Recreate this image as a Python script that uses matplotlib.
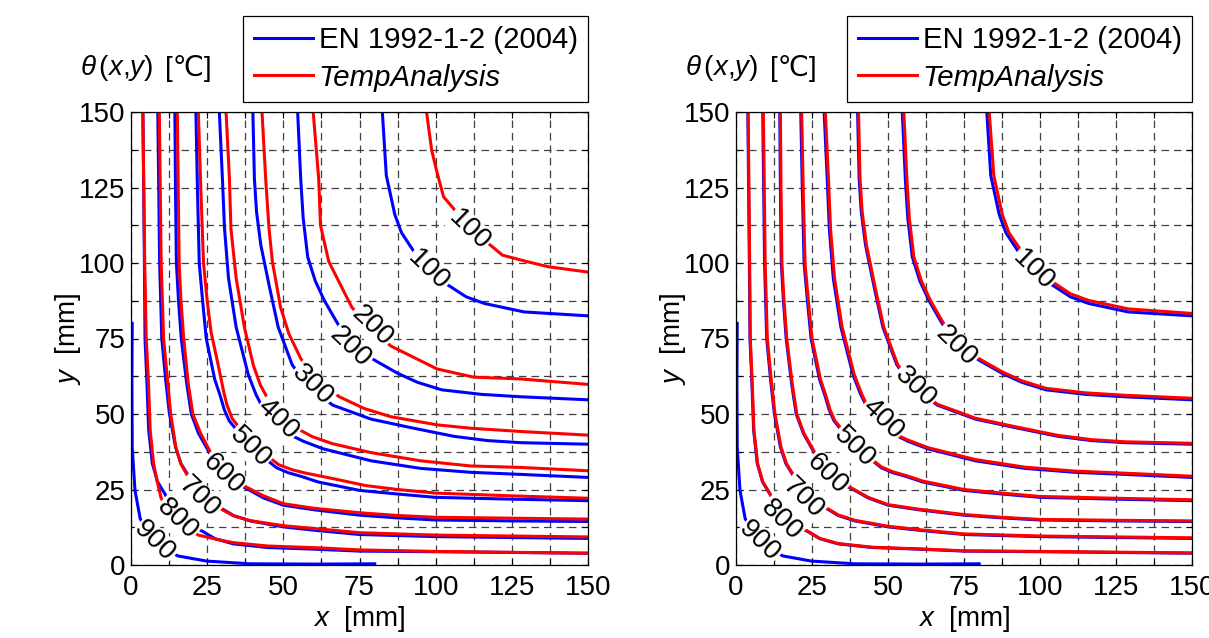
import numpy as np
import matplotlib
matplotlib.use('Agg')
import matplotlib.pyplot as plt

plt.rcParams['font.family'] = ['Liberation Sans', 'DejaVu Sans']
plt.rcParams['mathtext.fontset'] = 'custom'
plt.rcParams['mathtext.rm'] = 'Liberation Sans'
plt.rcParams['mathtext.it'] = 'Liberation Sans:italic'

# Isotherms of a square section corner are symmetric about x = y, so each
# entry holds only the upper branch (x list, y list) in mm, running from the
# top edge down to the diagonal; the lower branch is its mirror image.
EN_HALF = {
    100: ([82.5, 83.8, 86.6, 88.8, 92.6, 97.5], [150, 129, 116, 110, 104.2, 97.5]),
    200: ([54.7, 55.7, 56.5, 58.0, 60.5, 63.5, 67.5, 72.5], [150, 128, 115, 102, 94, 87.5, 80.5, 72.5]),
    300: ([40.0, 40.5, 41.2, 42.6, 45.5, 48.3, 52.9, 58.5], [150, 128, 117, 106, 91.8, 78.8, 66.3, 58.5]),
    400: ([29.0, 30.0, 30.7, 32.0, 34.5, 38.5, 41.0, 42.5, 47.5], [150, 128, 111.4, 95, 78.8, 63, 56.5, 53.5, 47.5]),
    500: ([21.3, 21.8, 22.4, 23.5, 24.7, 27.5, 29.3, 30.6, 32.2, 34.2, 38.8], [150, 125, 100, 87.5, 75, 61.4, 56, 51.5, 47.8, 45.3, 38.8]),
    600: ([14.4, 14.6, 14.9, 15.6, 16.5, 18.3, 19.8, 22.2, 25.3, 29.5], [150, 125, 100, 87.5, 75, 60, 50, 43.5, 38, 29.5]),
    700: ([8.8, 9.4, 10.1, 11.4, 12.6, 14.6, 16.4, 18.4, 22.6], [150, 100, 75, 61.2, 50.2, 39.1, 33.6, 30.3, 22.6]),
    800: ([3.9, 4.4, 4.6, 5.2, 5.8, 7.0, 8.7, 11.2, 15.3], [150, 100, 75, 61.2, 44.7, 33.6, 27.6, 23.4, 15.3]),
    900: ([0.4, 0.3, 0.4, 1.3, 3.0, 7.5], [80, 61, 39, 24.8, 15.4, 7.5]),
}

TA_LEFT_HALF = {
    100: ([97.0, 98.7, 100.4, 102.6, 105.9, 111.0], [150, 137.3, 130.2, 121.9, 118.0, 111.0]),
    200: ([59.8, 61.6, 62.2, 64.9, 68.7, 72.5, 78.5], [150, 128, 112.5, 100.5, 92.9, 85.3, 78.5]),
    300: ([43.0, 44.2, 45.3, 46.4, 49.1, 51.8, 55.7, 61.0], [150, 128, 111.4, 100.5, 85.3, 76.6, 68.4, 61.0]),
    400: ([31.2, 32.3, 32.8, 34.5, 37.2, 40.2, 42.5, 44.4, 49.5], [150, 128, 111.4, 95.1, 78.8, 66, 59.5, 56.0, 49.5]),
    500: ([22.1, 22.9, 23.8, 25.0, 26.3, 28.5, 30.5, 31.5, 33.2, 35.3, 40.2], [150, 125, 100, 87.5, 77, 66.8, 57, 53, 48.5, 45.8, 40.2]),
    600: ([15.2, 15.5, 15.8, 16.4, 17.3, 18.8, 20.3, 22.9, 26.0, 30.5], [150, 125, 100, 87.5, 75, 60, 50, 43.5, 37.5, 30.5]),
    700: ([9.3, 9.9, 10.7, 12.0, 13.0, 14.7, 16.3, 18.4, 23.0], [150, 100, 75, 61.2, 50.2, 39.1, 33.6, 29.8, 23.0]),
    800: ([3.9, 4.5, 5.0, 5.7, 6.3, 7.4, 8.5, 9.9, 14.8], [150, 100, 75, 61.2, 44.7, 33.6, 28.1, 22.1, 14.8]),
}

TA_RIGHT_HALF = {
    100: ([83.3, 84.8, 87.6, 89.8, 93.3, 98.2], [150, 129, 116, 110, 104.8, 98.2]),
    200: ([55.2, 56.2, 57.0, 58.5, 61.0, 64.0, 68.0, 73.0], [150, 128, 115, 102, 94, 87.5, 80.5, 73.0]),
    300: ([40.3, 40.8, 41.5, 42.9, 45.8, 48.6, 53.2, 58.8], [150, 128, 117, 106, 91.8, 78.8, 66.3, 58.8]),
    400: ([29.4, 30.4, 31.1, 32.4, 34.9, 38.9, 41.4, 42.8, 47.8], [150, 128, 111.4, 95, 78.8, 63, 56.5, 53.5, 47.8]),
    500: ([21.6, 22.1, 22.7, 23.8, 25.0, 27.8, 29.6, 30.9, 32.5, 34.5, 39.0], [150, 125, 100, 87.5, 75, 61.4, 56, 51.5, 47.8, 45.3, 39.0]),
    600: ([14.6, 14.8, 15.1, 15.8, 16.7, 18.5, 20.0, 22.4, 25.5, 29.7], [150, 125, 100, 87.5, 75, 60, 50, 43.5, 38, 29.7]),
    700: ([9.0, 9.6, 10.3, 11.6, 12.8, 14.8, 16.6, 18.6, 22.8], [150, 100, 75, 61.2, 50.2, 39.1, 33.6, 30.3, 22.8]),
    800: ([4.0, 4.5, 4.7, 5.3, 5.9, 7.1, 8.8, 11.3, 15.4], [150, 100, 75, 61.2, 44.7, 33.6, 27.6, 23.4, 15.4]),
}

# inline labels: (temperature, position along the diagonal in mm)
LEFT_LABELS = [(100, 97.6), (100, 111.0), (200, 72.0), (200, 79.0), (300, 59.5), (400, 48.3),
               (500, 39.2), (600, 30.2), (700, 22.4), (800, 15.3), (900, 7.8)]
RIGHT_LABELS = [(100, 97.8), (200, 72.5), (300, 58.9), (400, 48.2), (500, 38.9),
                (600, 30.1), (700, 22.1), (800, 14.9), (900, 7.8)]

TICKS = [0, 12.5, 25, 37.5, 50, 62.5, 75, 87.5, 100, 112.5, 125, 137.5, 150]
TICK_LABELS = ['0', '', '25', '', '50', '', '75', '', '100', '', '125', '', '150']

SERIES_NAMES = ['EN 1992-1-2 (2004)', 'TempAnalysis']

W, H = 1209, 638
FS = 20


def full_curve(half):
    xh, yh = half
    xs = list(xh) + list(yh[-2::-1])
    ys = list(yh) + list(xh[-2::-1])
    return xs, ys


def draw_panel(ax, en, ta, labels):
    for i, lev in enumerate(en):
        xs, ys = full_curve(en[lev])
        ax.plot(xs, ys, color='#0000ff', lw=2.2, zorder=2,
                label=SERIES_NAMES[0] if i == 0 else None)
    for i, lev in enumerate(ta):
        xs, ys = full_curve(ta[lev])
        ax.plot(xs, ys, color='#ff0000', lw=2.2, zorder=2.1,
                label=SERIES_NAMES[1] if i == 0 else None)
    for lev, d in labels:
        ax.text(d, d, str(lev), fontsize=20, rotation=-44, ha='center', va='center',
                rotation_mode='anchor', zorder=4,
                bbox=dict(boxstyle='square,pad=0.03', fc='white', ec='none'))

    ax.set_xlim(0, 150)
    ax.set_ylim(0, 150)
    ax.set_xticks(TICKS)
    ax.set_yticks(TICKS)
    ax.set_xticklabels(TICK_LABELS)
    ax.set_yticklabels(TICK_LABELS)
    ax.tick_params(direction='in', top=True, right=True, length=4, width=0.8,
                   labelsize=FS, color='black')
    ax.tick_params(axis='x', pad=7)
    ax.tick_params(axis='y', pad=4)
    ax.grid(True, color='0.25', lw=0.9, linestyle=(0, (6, 4)))
    ax.set_axisbelow(True)
    for s in ax.spines.values():
        s.set_linewidth(0.9)
        s.set_color('black')
        s.set_zorder(5)
    ax.set_xlabel(r'$x$  [mm]', fontsize=FS, labelpad=2)
    ax.set_ylabel(r'$y$  [mm]', fontsize=FS, labelpad=-3)

    leg = ax.legend(loc='lower right', bbox_to_anchor=(1.0, 1.022), borderaxespad=0,
                    fontsize=21.2, handlelength=2.0, handletextpad=0.2, labelspacing=0.32,
                    borderpad=0.35, fancybox=False, framealpha=1, edgecolor='black')
    leg.get_frame().set_linewidth(0.9)
    leg.get_texts()[1].set_style('italic')


fig = plt.figure(figsize=(W / 100, H / 100), dpi=100)
ax1 = fig.add_axes([131 / W, 73 / H, 457 / W, 453 / H])
ax2 = fig.add_axes([736 / W, 73 / H, 456 / W, 453 / H])

draw_panel(ax1, EN_HALF, TA_LEFT_HALF, LEFT_LABELS)
draw_panel(ax2, EN_HALF, TA_RIGHT_HALF, RIGHT_LABELS)

# quantity symbol and unit above each panel; the unit is plain text so that
# the degree-Celsius sign can fall back to DejaVu Sans
for x0 in (80, 685):
    fig.text(x0 / W, 1 - 68 / H, r'$\theta\,(x{,}y)$', fontsize=FS, va='center', ha='left')
    fig.text((x0 + 85) / W, 1 - 68 / H, '[℃]', fontsize=FS, va='center', ha='left')

fig.savefig('out.png', dpi=100)
